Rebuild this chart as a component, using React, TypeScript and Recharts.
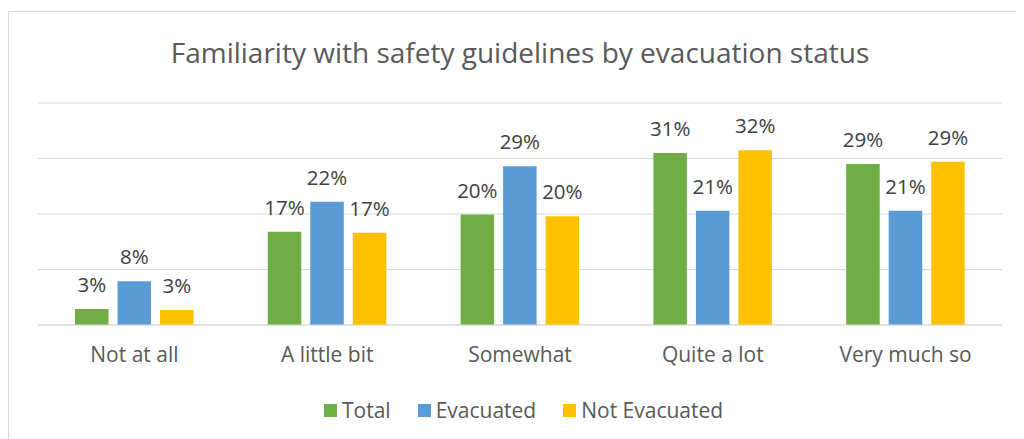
import React from 'react';
import { BarChart, Bar, XAxis, YAxis, CartesianGrid, LabelList } from 'recharts';

const categories = ['Not at all', 'A little bit', 'Somewhat', 'Quite a lot', 'Very much so'];
const total = [2.9, 16.8, 19.9, 31.0, 29.0];
const evacuated = [7.9, 22.2, 28.6, 20.6, 20.6];
const notEvacuated = [2.7, 16.6, 19.6, 31.5, 29.4];
const yTicks = [0, 10, 20, 30, 40];

const seriesNames = ['Total', 'Evacuated', 'Not Evacuated'];
const seriesKeys = ['total', 'evacuated', 'notEvacuated'];
const seriesColors = ['#70AD47', '#5B9BD5', '#FFC000'];

const data = categories.map((c, i) => ({
  category: c,
  total: total[i],
  evacuated: evacuated[i],
  notEvacuated: notEvacuated[i],
}));

const FONT = '"Open Sans", sans-serif';

export default function App() {
  return (
    <div style={{ position: 'relative', width: 1016, height: 431, overflow: 'hidden', fontFamily: FONT }}>
      <div
        style={{
          position: 'absolute',
          left: 0,
          top: 3,
          width: 1100,
          height: 600,
          border: '1px solid #d9d9d9',
          boxSizing: 'border-box',
        }}
      />
      <svg width={1016} height={80} style={{ position: 'absolute', left: 0, top: 0 }}>
        <text x={512} y={55} textAnchor="middle" fontFamily={FONT} fontSize={28} fill="#595959">
          Familiarity with safety guidelines by evacuation status
        </text>
      </svg>
      <div style={{ position: 'absolute', left: 0, top: 0 }}>
        <BarChart
          width={1016}
          height={431}
          data={data}
          margin={{ top: 95, right: 22, bottom: 74, left: 30 }}
          barSize={33.5}
          barGap={9}
        >
          <CartesianGrid horizontal vertical={false} stroke="#d9d9d9" strokeWidth={1} />
          <YAxis hide domain={[0, 40]} ticks={yTicks} />
          <XAxis
            dataKey="category"
            height={40}
            axisLine={{ stroke: '#d9d9d9' }}
            tickLine={false}
            tickSize={0}
            tickMargin={22}
            tick={{ fontFamily: FONT, fontSize: 21, fill: '#595959' }}
            interval={0}
          />
          {seriesKeys.map((k, i) => (
            <Bar key={k} dataKey={k} name={seriesNames[i]} fill={seriesColors[i]} isAnimationActive={false}>
              <LabelList
                dataKey={k}
                position="top"
                offset={17}
                formatter={(v: number) => `${Math.round(v)}%`}
                style={{ fontFamily: FONT, fontSize: 20.5, fill: '#404040' }}
              />
            </Bar>
          ))}
        </BarChart>
      </div>
      <div
        style={{
          position: 'absolute',
          left: 316,
          top: 388,
          display: 'flex',
          alignItems: 'center',
          gap: 27,
          fontFamily: FONT,
          fontSize: 21,
          color: '#595959',
          lineHeight: '28px',
        }}
      >
        {seriesNames.map((n, i) => (
          <div key={n} style={{ display: 'flex', alignItems: 'center', gap: 5 }}>
            <div style={{ width: 13, height: 13, background: seriesColors[i] }} />
            <span>{n}</span>
          </div>
        ))}
      </div>
    </div>
  );
}
